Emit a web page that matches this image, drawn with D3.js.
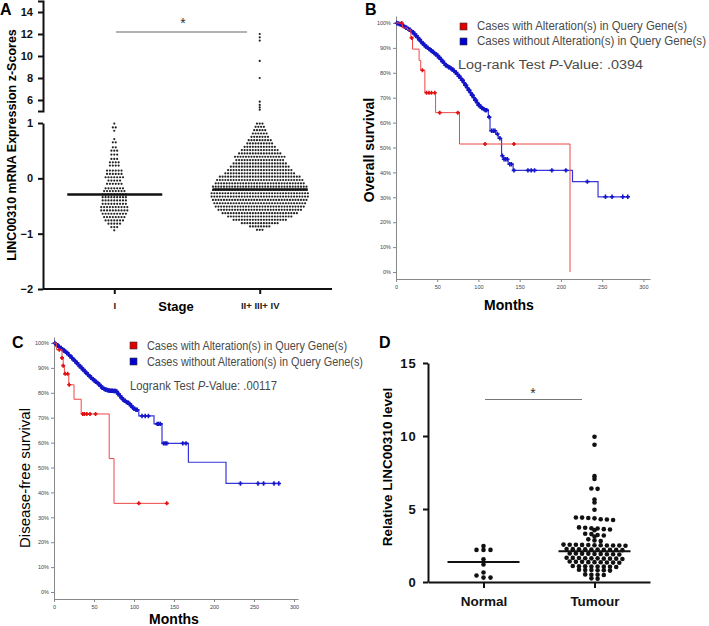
<!DOCTYPE html>
<html>
<head>
<meta charset="utf-8">
<script src="https://cdn.jsdelivr.net/npm/d3@7"></script>
<style>
  body { margin: 0; background: #fff; }
  svg { display: block; }
  text { font-family: Arial, 'Liberation Sans', sans-serif; }
</style>
</head>
<body>
<div class="chart"></div>
<script>
// ---------- A: z-scores by stage, dot rows (level, number of dots in that row)
var stageGroups = ['I', 'II+ III+ IV'];
var stageIRows = [0.99, 0.92, 0.86, 0.71, 0.65, 0.56, 0.50, 0.43, 0.35, 0.29, 0.23, 0.14, 0.08, 0.02, -0.04,
  -0.10, -0.18, -0.23, -0.29, -0.34, -0.40, -0.46, -0.52, -0.58, -0.64, -0.70, -0.76, -0.82, -0.88, -0.94];
var stageICounts = [1, 2, 1, 1, 2, 2, 3, 3, 3, 4, 4, 6, 6, 7, 5, 6, 7, 8, 9, 9, 9, 9, 10, 10, 9, 8, 7, 5, 3, 1];
var stageIIRows = [0.99, 0.93, 0.87, 0.81, 0.75, 0.69, 0.63, 0.57, 0.51, 0.45, 0.39, 0.33, 0.27, 0.21, 0.15, 0.09,
  0.03, -0.03, -0.09, -0.15, -0.21, -0.27, -0.33, -0.39, -0.45, -0.51, -0.57, -0.63, -0.69, -0.75, -0.81, -0.87, -0.93];
var stageIICounts = [3, 4, 5, 6, 7, 9, 10, 12, 14, 16, 19, 18, 20, 22, 24, 26, 30, 32, 33, 35, 35, 36, 36, 35, 34,
  33, 31, 28, 24, 20, 14, 8, 3];
var stageIIOutliers = [12.0, 11.7, 11.4, 9.55, 8.0, 5.85, 5.55, 5.33, 5.12];
var stageMeans = [-0.29, -0.2];
var upperTicks = [6, 8, 10, 12, 14];
var lowerTicks = [-2, -1, 0, 1];

// ---------- B: overall survival (month, % surviving) and censored months
var osAltered = [[0, 100], [8, 98], [14, 97.2], [18, 94], [20, 89.5], [28, 85], [30, 81], [35, 72], [48, 64],
  [77, 51.4], [211, 0]];
var osAlteredCensor = [7, 19, 32, 37, 40, 43, 47, 53, 75, 108, 143];
var osUnaltered = [[0, 100], [2, 99.8], [4, 99.6], [6, 99.3], [8, 98.9], [10, 98.5], [12, 98.1], [14, 97.7],
  [16, 97.3], [18, 96.8], [20, 96.3], [22, 95.6], [24, 94.9], [26, 94.1], [28, 93.3], [30, 92.5], [32, 91.8],
  [34, 91.1], [36, 90.5], [38, 90], [40, 89.5], [42, 89], [44, 88.5], [46, 87.9], [48, 87.4], [50, 86.9],
  [52, 86.1], [54, 85.4], [56, 84.6], [58, 83.8], [60, 83], [62, 82.6], [64, 82.2], [66, 81.8], [68, 81.3],
  [70, 80.8], [72, 80.1], [74, 79.4], [76, 78.6], [78, 77.8], [80, 77], [82, 76], [84, 75], [86, 74], [88, 73],
  [90, 72], [92, 71], [94, 70], [96, 69], [98, 68], [100, 67], [102, 66.4], [104, 65.8], [106, 65.4], [108, 65],
  [112, 62.2], [114, 56.7], [121, 55.4], [124, 53.7], [128, 46.7], [130, 45.3], [136, 43.3], [142, 40.8],
  [214, 36.3], [245, 30.2], [283, 30.2]];
var osUnalteredCensor = [1, 2.5, 4, 5, 6.5, 8, 9, 10.5, 12, 13, 14.5, 16, 17, 18.5, 20, 21, 22.5, 24, 25, 26.5, 28,
  29, 30.5, 32, 33, 34.5, 36, 37, 38.5, 40, 41, 42.5, 44, 45, 46.5, 48, 49, 50.5, 52, 53, 54.5, 56, 57, 58.5, 60,
  61, 62.5, 64, 65, 66.5, 68, 69, 70.5, 72, 73, 74.5, 76, 77, 78.5, 80, 81, 82.5, 84, 85, 86.5, 88, 89, 90.5, 92,
  93, 94.5, 96, 97, 98.5, 100, 101, 102.5, 104, 105, 106.5, 108, 109, 110, 113, 116, 118, 120, 123, 126, 129, 131,
  133, 135, 138, 140, 143, 160, 164, 168, 189, 206, 232, 254, 262, 275, 281];

// ---------- C: disease-free survival
var dfsAltered = [[0, 100], [3, 97.3], [10, 94], [11.5, 90.9], [13, 87.6], [18.5, 83.2], [25, 77.4], [34, 71.5],
  [69, 53.6], [75, 35.6], [141, 35.6]];
var dfsAlteredCensor = [6.6, 10, 11.5, 14, 17, 19, 36, 38, 41, 45, 52, 106, 141];
var dfsUnaltered = [[0, 100], [2, 99.5], [4, 99], [6, 98.5], [8, 98], [10, 97.5], [12, 97], [14, 96.5], [16, 96],
  [18, 95.3], [20, 94.7], [22, 94], [24, 93.3], [26, 92.7], [28, 92], [30, 91.3], [32, 90.6], [34, 90],
  [36, 89.3], [38, 88.6], [40, 88], [42, 87.3], [44, 86.7], [46, 86.1], [48, 85.5], [50, 85], [52, 84.4],
  [54, 83.9], [56, 83.3], [58, 82.6], [60, 82], [62, 81.6], [64, 81.3], [66, 81.1], [68, 80.9], [70, 80.8],
  [74, 80.7], [78, 80.5], [80, 79.5], [82, 78.8], [84, 78], [86, 77.2], [88, 76.8], [90, 76.3], [92, 76],
  [94, 75.6], [96, 74.8], [98, 74], [100, 73.6], [102, 73.2], [106, 70.7], [125, 67.5], [135, 59.7],
  [168, 52.1], [215, 43.6], [281, 43.6]];
var dfsUnalteredCensor = [1, 2.5, 4, 5, 6.5, 8, 9, 10.5, 12, 13, 14.5, 16, 17, 18.5, 20, 21, 22.5, 24, 25, 26.5,
  28, 29, 30.5, 32, 33, 34.5, 36, 37, 38.5, 40, 41, 42.5, 44, 45, 46.5, 48, 49, 50.5, 52, 53, 54.5, 56, 57, 58.5,
  60, 61, 62.5, 64, 65, 66.5, 68, 69, 70.5, 72, 73, 74.5, 76, 77, 78.5, 80, 81, 82.5, 84, 85, 86.5, 88, 89, 90.5,
  92, 93, 94.5, 96, 97, 98.5, 100, 101, 102.5, 104, 110, 114, 118, 129, 131, 133, 137, 139, 141, 161, 165, 233,
  255, 262, 275, 281];
var monthTicks = [0, 50, 100, 150, 200, 250, 300];
var pctTicks = [0, 10, 20, 30, 40, 50, 60, 70, 80, 90, 100];

// ---------- D: relative level, normal vs tumour
var tissueGroups = ['Normal', 'Tumour'];
var normalValues = [2.47, 2.2, 2.2, 2.2, 1.55, 1.2, 0.65, 0.45, 0.3, 0.3];
var tumourValues = [9.95, 9.4, 7.25, 7.05, 6.4, 6.38, 5.65, 5.45, 4.95,
  4.42, 4.38, 4.3, 4.25, 4.28, 4.36, 4.41,
  3.72, 3.66, 3.6, 3.55, 3.62, 3.68, 3.74,
  3.3, 3.22, 3.12, 3.18, 3.28,
  2.92, 2.85, 2.8,
  2.55, 2.54, 2.52, 2.5, 2.5, 2.48, 2.5, 2.52, 2.53, 2.55, 2.56,
  2.25, 2.24, 2.22, 2.2, 2.2, 2.18, 2.2, 2.22, 2.24, 2.26,
  1.95, 1.93, 1.92, 1.9, 1.88, 1.9, 1.92, 1.94, 1.96,
  1.65, 1.63, 1.62, 1.6, 1.6, 1.58, 1.6, 1.62, 1.64, 1.66,
  1.38, 1.36, 1.35, 1.33, 1.32, 1.34, 1.36, 1.38, 1.4,
  1.08, 1.06, 1.05, 1.03, 1.04, 1.06, 1.08, 1.1,
  0.82, 0.8, 0.78, 0.8, 0.82, 0.84,
  0.52, 0.5, 0.48, 0.5,
  0.25, 0.22];
var tissueMeans = [1.37, 2.1];
var levelTicks = [0, 5, 10, 15];

var svg = d3.select('.chart')
  .append('svg')
    .attr('width', 709)
    .attr('height', 626);

svg.append('rect').attr('width', 709).attr('height', 626).attr('fill', '#fff');

function panelLetter(txt, x, y) {
  svg.append('text').attr('x', x).attr('y', y).text(txt)
    .attr('font-size', 16).attr('font-weight', 'bold');
}

function styleAxis(g, color, width) {
  g.select('.domain').attr('stroke', color).attr('stroke-width', width);
  g.selectAll('.tick line').attr('stroke', color).attr('stroke-width', width);
}

// ================= Panel A =================
(function () {
  var yLow = d3.scaleLinear().domain([-2, 1]).range([289, 123]);
  var yHigh = d3.scaleLinear().domain([5, 15]).range([111, 1]);
  var x = d3.scalePoint().domain(stageGroups).range([43, 331]).padding(0.49);
  var g = svg.append('g');

  var axHigh = g.append('g').attr('transform', 'translate(43,0)')
    .call(d3.axisLeft(yHigh).tickValues(upperTicks).tickFormat(d3.format('d'))
      .tickSize(5).tickSizeOuter(5).tickPadding(5));
  var axLow = g.append('g').attr('transform', 'translate(43,0)')
    .call(d3.axisLeft(yLow).tickValues(lowerTicks).tickFormat(d3.format('d'))
      .tickSize(5).tickSizeOuter(0).tickPadding(5));
  [axHigh, axLow].forEach(function (a) {
    styleAxis(a, '#111', 2);
    a.selectAll('text').attr('font-size', 11).attr('font-weight', 'bold').attr('fill', '#111')
      .attr('font-family', 'Arial, sans-serif');
  });

  var axX = g.append('g').attr('transform', 'translate(0,289)')
    .call(d3.axisBottom(x).tickSize(5).tickSizeOuter(0).tickPadding(8));
  axX.select('.domain').attr('d', 'M43,0H332');
  styleAxis(axX, '#111', 2);
  axX.selectAll('text').attr('font-size', 9.5).attr('font-weight', 'bold').attr('fill', '#222');

  g.append('text').attr('x', 176).attr('y', 311).attr('text-anchor', 'middle')
    .attr('font-size', 13).attr('font-weight', 'bold').text('Stage');

  g.append('text').attr('transform', 'translate(16,145) rotate(-90)').attr('text-anchor', 'middle')
    .attr('font-size', 12.5).attr('font-weight', 'bold').text('LINC00310 mRNA Expression z-Scores');

  function rowDots(rows, counts, pitch, cx) {
    var dots = [];
    rows.forEach(function (v, i) {
      var n = counts[i];
      for (var j = 0; j < n; j++) dots.push({ x: cx + (j - (n - 1) / 2) * pitch, y: yLow(v) });
    });
    return dots;
  }
  var dots = rowDots(stageIRows, stageICounts, 2.9, x(stageGroups[0]))
    .concat(rowDots(stageIIRows, stageIICounts, 2.75, x(stageGroups[1])));
  stageIIOutliers.forEach(function (v) {
    dots.push({ x: x(stageGroups[1]), y: v >= 5 ? yHigh(v) : yLow(v) });
  });

  g.append('g').selectAll('circle').data(dots).enter().append('circle')
    .attr('cx', function (d) { return d.x; })
    .attr('cy', function (d) { return d.y; })
    .attr('r', 1.1)
    .attr('fill', '#222');

  g.append('g').selectAll('line').data(stageMeans).enter().append('line')
    .attr('x1', function (d, i) { return x(stageGroups[i]) - 47; })
    .attr('x2', function (d, i) { return x(stageGroups[i]) + 48; })
    .attr('y1', function (d) { return yLow(d); })
    .attr('y2', function (d) { return yLow(d); })
    .attr('stroke', '#111').attr('stroke-width', 2.5);

  g.append('line').attr('x1', 116).attr('x2', 247).attr('y1', 32).attr('y2', 32)
    .attr('stroke', '#666').attr('stroke-width', 1.2);
  g.append('text').attr('x', 183).attr('y', 28).attr('text-anchor', 'middle')
    .attr('font-size', 14).attr('fill', '#333').text('*');
})();
panelLetter('A', 0, 15);

// ================= Kaplan-Meier panels =================
function survAt(steps, t) {
  var s = steps[0][1];
  steps.forEach(function (p) { if (p[0] <= t) s = p[1]; });
  return s;
}

function kmPanel(o) {
  var g = svg.append('g');
  var x = d3.scaleLinear().domain(o.xDomain).range(o.xRange);
  var y = d3.scaleLinear().domain(o.yDomain).range(o.yRange);

  var ax = g.append('g').attr('transform', 'translate(0,' + o.yRange[0] + ')')
    .call(d3.axisBottom(x).tickValues(monthTicks).tickSize(3).tickSizeOuter(0).tickPadding(3));
  var ay = g.append('g').attr('transform', 'translate(' + o.xRange[0] + ',0)')
    .call(d3.axisLeft(y).tickValues(pctTicks).tickFormat(function (d) { return d + '%'; })
      .tickSize(3).tickSizeOuter(0).tickPadding(2));
  [ax, ay].forEach(function (a) {
    styleAxis(a, '#888', 1);
    a.selectAll('text').attr('font-size', 5.5).attr('fill', '#444')
      .attr('font-family', "'DejaVu Sans Condensed', 'DejaVu Sans', sans-serif");
  });

  var line = d3.line().curve(d3.curveStepAfter)
    .x(function (d) { return x(d[0]); })
    .y(function (d) { return y(d[1]); });

  function series(steps, censor, color, markColor, w, m) {
    g.append('path').datum(steps).attr('d', line)
      .attr('fill', 'none').attr('stroke', color).attr('stroke-width', w);
    g.append('g').selectAll('path').data(censor).enter().append('path')
      .attr('transform', function (d) { return 'translate(' + x(d) + ',' + y(survAt(steps, d)) + ')'; })
      .attr('d', 'M-' + m + ',0H' + m + 'M0,-' + m + 'V' + m)
      .attr('stroke', markColor).attr('stroke-width', 1.6);
  }
  series(o.unaltered, o.unalteredCensor, '#3636dc', '#1414c8', 1.2, 2.2);
  series(o.altered, o.alteredCensor, '#f04646', '#e01010', 1, 2);

  // legend
  var lf = "'DejaVu Sans Condensed', 'DejaVu Sans', sans-serif";
  var lg = g.append('g');
  lg.selectAll('rect').data(['#e00000', '#0000d0']).enter().append('rect')
    .attr('x', o.legend.sx).attr('y', function (d, i) { return o.legend.sy[i]; })
    .attr('width', 7).attr('height', 7)
    .attr('fill', function (d) { return d; }).attr('stroke', '#333').attr('stroke-width', 0.6);
  var labels = ['Cases with Alteration(s) in Query Gene(s)', 'Cases without Alteration(s) in Query Gene(s)'];
  labels.forEach(function (t, i) {
    lg.append('text').attr('x', o.legend.tx).attr('y', o.legend.ty[i]).text(t)
      .attr('font-family', lf).attr('font-size', o.legend.fs).attr('fill', '#4a4a4a')
      .attr('textLength', o.legend.tw[i]).attr('lengthAdjust', 'spacingAndGlyphs');
  });
  var pt = lg.append('text').attr('x', o.legend.px).attr('y', o.legend.ty[2])
    .attr('font-family', lf).attr('font-size', o.legend.fs).attr('fill', '#4a4a4a')
    .attr('textLength', o.legend.tw[2]).attr('lengthAdjust', 'spacingAndGlyphs');
  pt.append('tspan').text(o.testName + ' Test ');
  pt.append('tspan').attr('font-style', 'italic').text('P');
  pt.append('tspan').text('-Value: ' + o.pValue);

  g.append('text').attr('x', o.xLabel[0]).attr('y', o.xLabel[1]).attr('text-anchor', 'middle')
    .attr('font-size', 14).attr('font-weight', 'bold').text('Months');
  g.append('text').attr('transform', 'translate(' + o.yLabel[0] + ',' + o.yLabel[1] + ') rotate(-90)')
    .attr('text-anchor', 'middle').attr('font-size', o.yLabel[2])
    .attr('font-weight', o.yLabel[3]).text(o.yLabel[4]);
}

kmPanel({
  xDomain: [0, 308], xRange: [396, 650],
  yDomain: [-2.8, 102.8], yRange: [279, 16],
  altered: osAltered, alteredCensor: osAlteredCensor,
  unaltered: osUnaltered, unalteredCensor: osUnalteredCensor,
  legend: { sx: 460, sy: [23, 38], tx: 477, ty: [30, 45, 69], px: 458, fs: 12.5, tw: [210, 229, 185] },
  testName: 'Log-rank', pValue: '.0394',
  xLabel: [509, 310], yLabel: [374, 150, 14, 'bold', 'Overall survival']
});
panelLetter('B', 365, 15);

kmPanel({
  xDomain: [0, 305], xRange: [54, 298],
  yDomain: [-2.8, 102.4], yRange: [599, 337],
  altered: dfsAltered, alteredCensor: dfsAlteredCensor,
  unaltered: dfsUnaltered, unalteredCensor: dfsUnalteredCensor,
  legend: { sx: 130, sy: [342, 358], tx: 147, ty: [350, 366, 390], px: 130, fs: 12, tw: [200, 216, 147] },
  testName: 'Logrank', pValue: '.00117',
  xLabel: [174, 624], yLabel: [30, 478, 15, 'normal', 'Disease-free survival']
});
panelLetter('C', 12, 348);

// ================= Panel D =================
(function () {
  var y = d3.scaleLinear().domain([0, 15]).range([582, 363]);
  var x = d3.scalePoint().domain(tissueGroups).range([428, 650]).padding(0.5);
  var g = svg.append('g');

  var ay = g.append('g').attr('transform', 'translate(428,0)')
    .call(d3.axisLeft(y).tickValues(levelTicks).tickSize(5).tickSizeOuter(0).tickPadding(6));
  styleAxis(ay, '#111', 2);
  ay.selectAll('text').attr('font-size', 13).attr('font-weight', 'bold').attr('fill', '#111')
    .attr('letter-spacing', 1.2);

  var ax = g.append('g').attr('transform', 'translate(0,582)')
    .call(d3.axisBottom(x).tickSize(6).tickSizeOuter(0).tickPadding(8));
  styleAxis(ax, '#111', 2);
  ax.selectAll('text').attr('font-size', 13.5).attr('font-weight', 'bold').attr('fill', '#111');

  g.append('text').attr('transform', 'translate(392,467) rotate(-90)').attr('text-anchor', 'middle')
    .attr('font-size', 13.5).attr('font-weight', 'bold').text('Relative LINC00310 level');

  // dot-plot layout: values closer than `gap` px share a row, rows are centred
  function rowLayout(values, cx, pitch, gap) {
    var sorted = values.slice().sort(d3.descending);
    var rows = [];
    sorted.forEach(function (v) {
      var last = rows[rows.length - 1];
      if (last && y(v) - y(last[0]) < gap) last.push(v);
      else rows.push([v]);
    });
    var dots = [];
    rows.forEach(function (r) {
      r.forEach(function (v, j) {
        dots.push({ x: cx + (j - (r.length - 1) / 2) * pitch, y: y(v) });
      });
    });
    return dots;
  }

  var dots = rowLayout(normalValues, x(tissueGroups[0]), 7, 2.5)
    .concat(rowLayout(tumourValues, x(tissueGroups[1]), 6.2, 2.5));
  g.append('g').selectAll('circle').data(dots).enter().append('circle')
    .attr('cx', function (d) { return d.x; })
    .attr('cy', function (d) { return d.y; })
    .attr('r', 2.3)
    .attr('fill', '#111');

  g.append('g').selectAll('line').data(tissueMeans).enter().append('line')
    .attr('x1', function (d, i) { return x(tissueGroups[i]) - 36; })
    .attr('x2', function (d, i) { return x(tissueGroups[i]) + 36; })
    .attr('y1', function (d) { return y(d); })
    .attr('y2', function (d) { return y(d); })
    .attr('stroke', '#111').attr('stroke-width', 2);

  g.append('line').attr('x1', 485).attr('x2', 582).attr('y1', y(12.5)).attr('y2', y(12.5))
    .attr('stroke', '#777').attr('stroke-width', 1.2);
  g.append('text').attr('x', 533).attr('y', 398).attr('text-anchor', 'middle')
    .attr('font-size', 14).attr('fill', '#333').text('*');
})();
panelLetter('D', 379, 348);
</script>
</body>
</html>
